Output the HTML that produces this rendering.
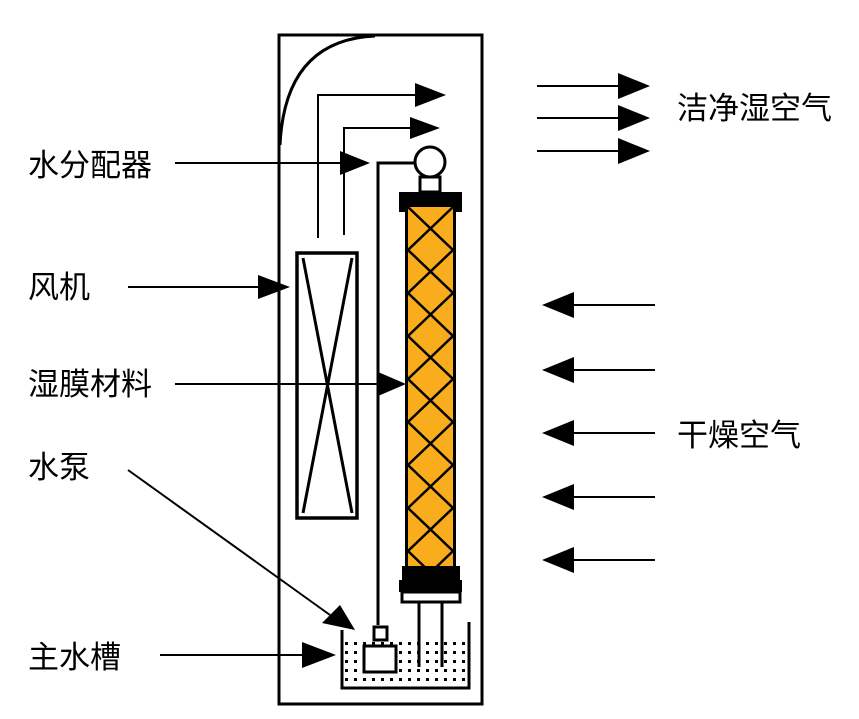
<!DOCTYPE html>
<html><head><meta charset="utf-8"><style>
html,body{margin:0;padding:0;background:#fff;}
svg{display:block;}
text{font-family:"Liberation Sans","Noto Sans CJK SC",sans-serif;font-size:31px;fill:#000;}
</style></head><body>
<svg width="859" height="719" viewBox="0 0 859 719" xmlns="http://www.w3.org/2000/svg">
<defs>
<pattern id="dots" width="9" height="9" patternUnits="userSpaceOnUse"><rect x="3" y="3" width="3" height="3" fill="#000"/></pattern>
</defs>
<rect x="279" y="35" width="203" height="669" fill="none" stroke="#000" stroke-width="3"/>
<path d="M280 145 Q285 40 375 36" fill="none" stroke="#000" stroke-width="3"/>
<polyline points="318,238 318,95 420,95" fill="none" stroke="#000" stroke-width="2"/>
<polygon points="415,83 446,95 415,107" fill="#000"/>
<polyline points="344,235 344,128 418,128" fill="none" stroke="#000" stroke-width="2"/>
<polygon points="410,117 440,128 410,139" fill="#000"/>
<line x1="175" y1="163" x2="345" y2="163" stroke="#000" stroke-width="2"/>
<polygon points="340,151 370,163 340,175" fill="#000"/>
<polyline points="378,625 378,163 416,163" fill="none" stroke="#000" stroke-width="3"/>
<circle cx="430" cy="162" r="15" fill="#fff" stroke="#000" stroke-width="3"/>
<rect x="420" y="177" width="20" height="15" fill="#fff" stroke="#000" stroke-width="3"/>
<path d="M399 192 H462 V212 H456 V580 H462 V592 H399 V580 H405 V212 H399 Z" fill="#000"/>
<rect x="408" y="207" width="45" height="368" fill="#f9ad1c"/>
<path d="M408 207 L453 250 L408 293 L453 336 L408 379 L453 422 L408 465 L453 508 L408 551 L433 575 M453 207 L408 250 L453 293 L408 336 L453 379 L408 422 L453 465 L408 508 L453 551 L428 575" fill="none" stroke="#000" stroke-width="2.5"/>
<rect x="402" y="566" width="58" height="26" fill="#000"/>
<rect x="402" y="592" width="58" height="10" fill="#fff" stroke="#000" stroke-width="3"/>
<line x1="419" y1="602" x2="419" y2="667" stroke="#000" stroke-width="3"/>
<line x1="442" y1="602" x2="442" y2="667" stroke="#000" stroke-width="3"/>
<rect x="297" y="253" width="60" height="265" fill="#fff" stroke="#000" stroke-width="3.5"/>
<path d="M303 258 L352 513 M352 258 L303 513" stroke="#000" stroke-width="3"/>
<rect x="344" y="636" width="124" height="48" fill="url(#dots)"/>
<polyline points="342,630 342,688 469,688 469,622" fill="none" stroke="#000" stroke-width="3"/>
<rect x="374" y="627" width="13" height="13" fill="#fff" stroke="#000" stroke-width="3"/>
<rect x="364" y="646" width="32" height="26" fill="#fff" stroke="#000" stroke-width="3"/>
<g stroke="#000" stroke-width="2">
<line x1="537" y1="86" x2="625" y2="86"/><line x1="537" y1="118" x2="625" y2="118"/><line x1="537" y1="151" x2="625" y2="151"/>
</g>
<polygon points="618,73 650,86 618,99" fill="#000"/>
<polygon points="618,105 650,118 618,131" fill="#000"/>
<polygon points="618,138 650,151 618,164" fill="#000"/>
<g stroke="#000" stroke-width="2">
<line x1="565" y1="305" x2="655" y2="305"/><line x1="565" y1="370" x2="655" y2="370"/><line x1="565" y1="433" x2="655" y2="433"/><line x1="565" y1="497" x2="655" y2="497"/><line x1="565" y1="560" x2="655" y2="560"/>
</g>
<polygon points="542,305 574,292 574,318" fill="#000"/>
<polygon points="542,370 574,357 574,383" fill="#000"/>
<polygon points="542,433 574,420 574,446" fill="#000"/>
<polygon points="542,497 574,484 574,510" fill="#000"/>
<polygon points="542,560 574,547 574,573" fill="#000"/>
<line x1="128" y1="287" x2="265" y2="287" stroke="#000" stroke-width="2"/>
<polygon points="258,275 290,287 258,299" fill="#000"/>
<line x1="175" y1="384" x2="385" y2="384" stroke="#000" stroke-width="2"/>
<polygon points="378,372 406,384 378,396" fill="#000"/>
<line x1="128" y1="470" x2="330" y2="615" stroke="#000" stroke-width="2"/>
<polygon points="340,605 355,630 322,623" fill="#000"/>
<line x1="160" y1="655" x2="310" y2="655" stroke="#000" stroke-width="2"/>
<polygon points="302,642 336,655 302,668" fill="#000"/>
<text x="28" y="176">水分配器</text>
<text x="28" y="298">风机</text>
<text x="28" y="395">湿膜材料</text>
<text x="28" y="478">水泵</text>
<text x="28" y="668">主水槽</text>
<text x="677" y="119">洁净湿空气</text>
<text x="677" y="446">干燥空气</text>
</svg>
</body></html>
